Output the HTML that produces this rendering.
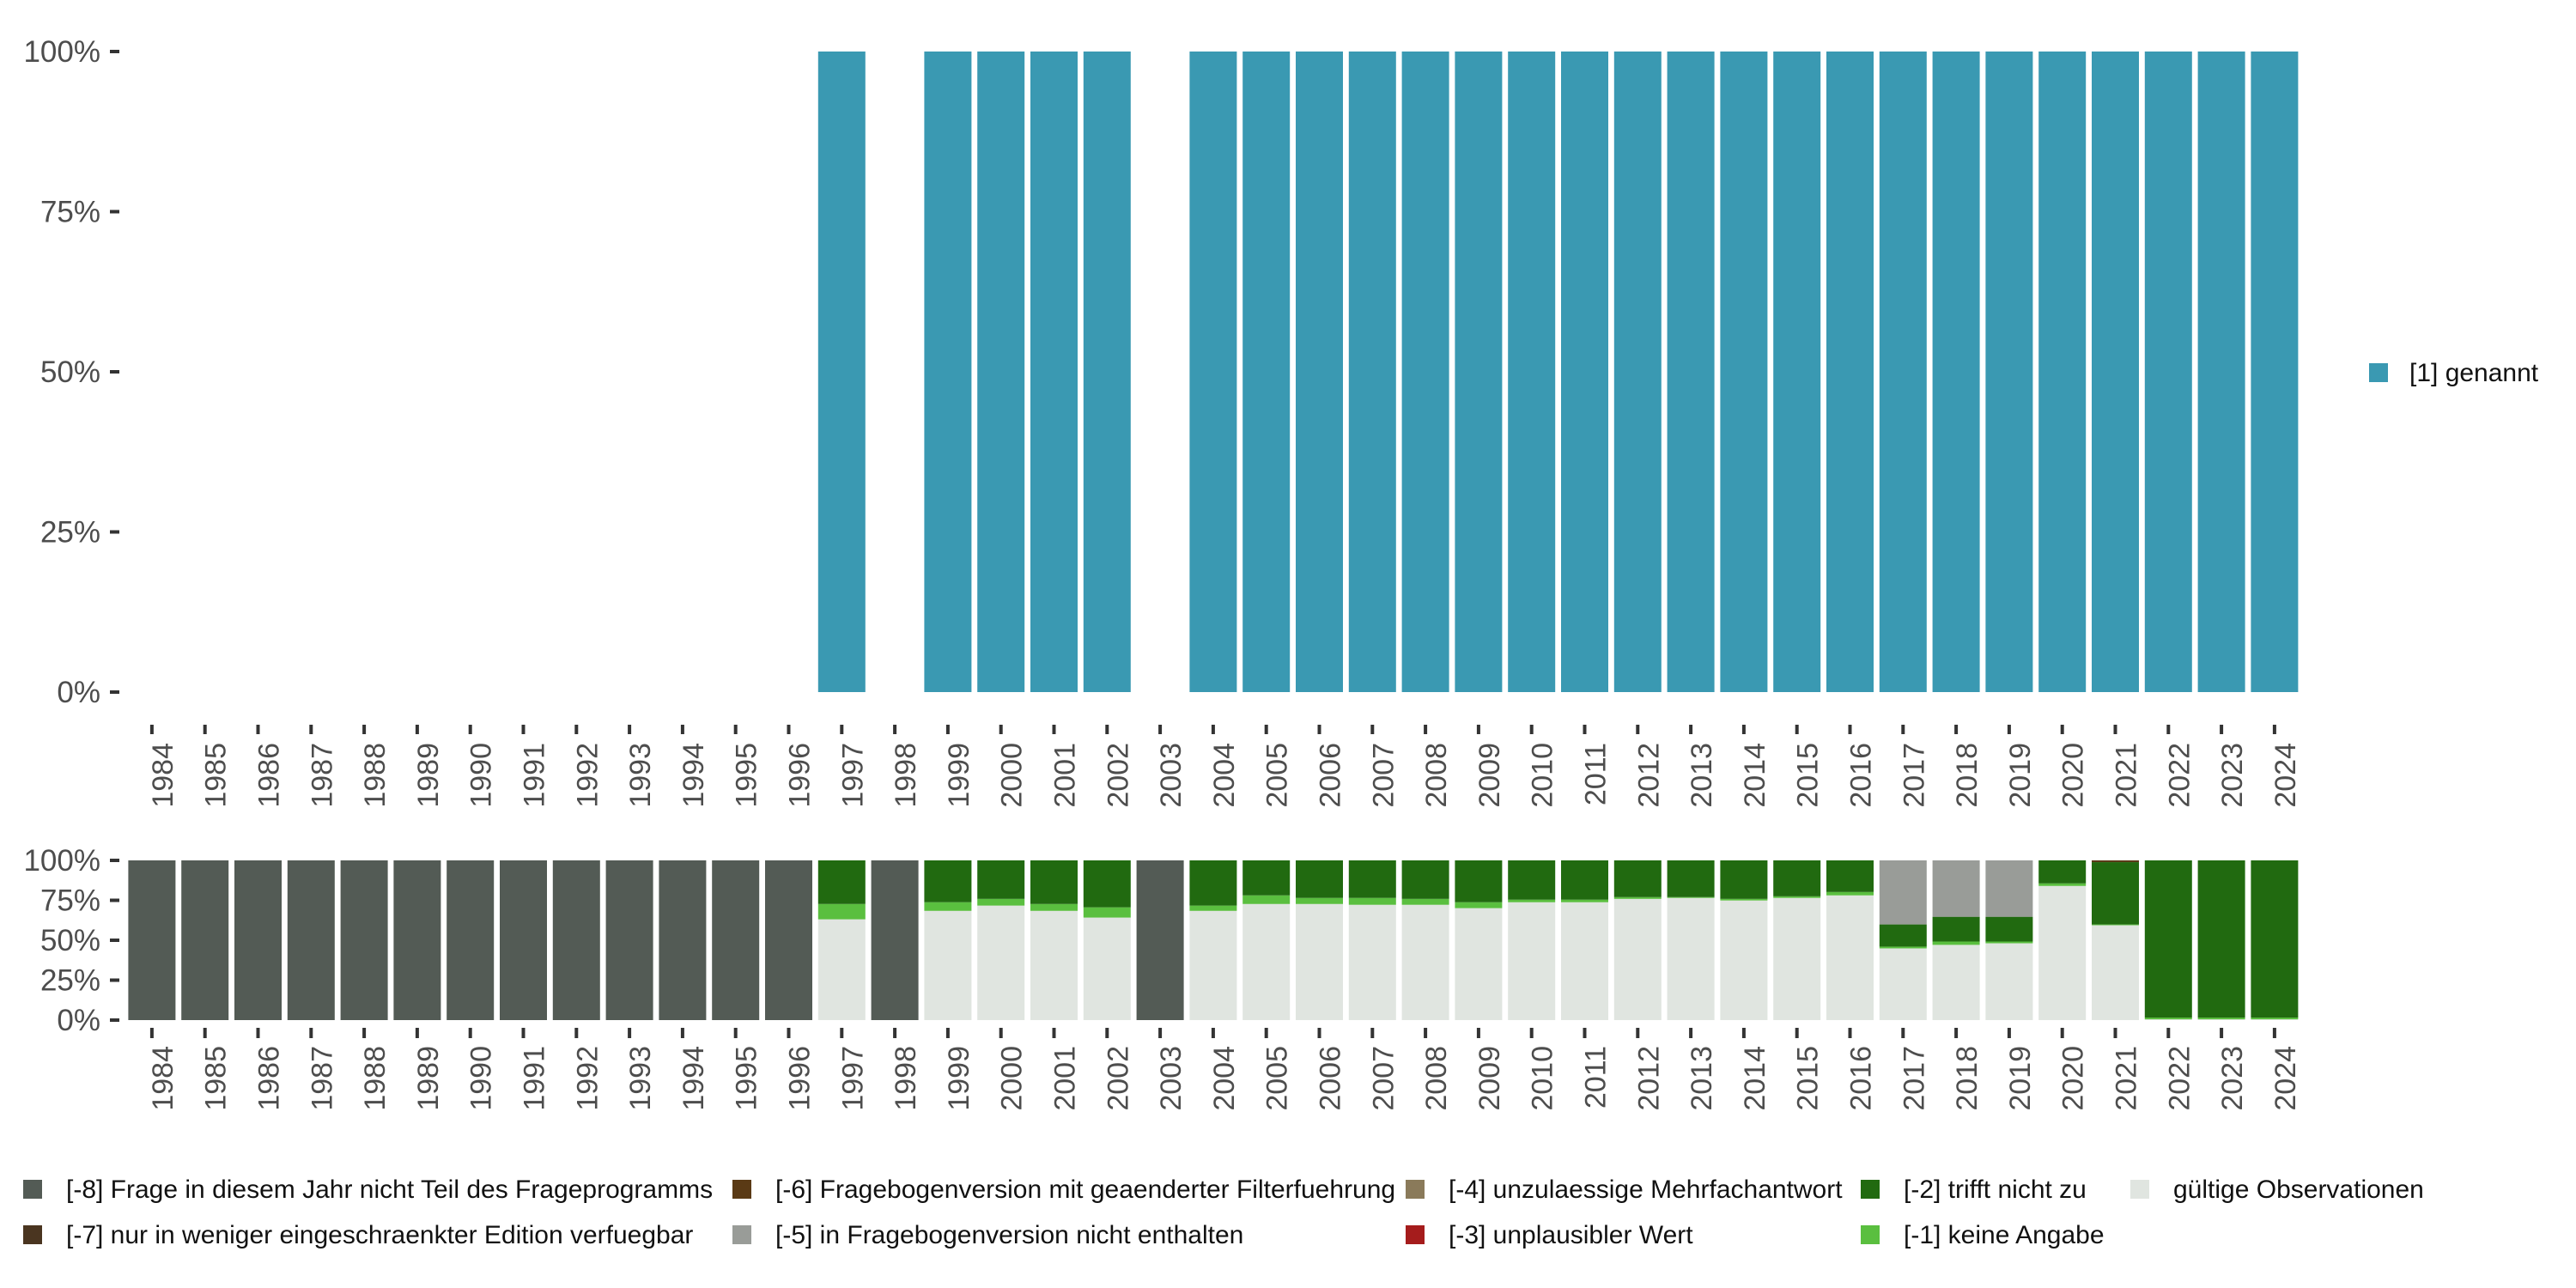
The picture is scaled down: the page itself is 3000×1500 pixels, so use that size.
<!DOCTYPE html>
<html><head><meta charset="utf-8"><style>
html,body{margin:0;padding:0;background:#fff;}
svg{display:block;font-family:"Liberation Sans",sans-serif;}
</style></head><body>
<svg id="chart" width="3000" height="1500" viewBox="0 0 3000 1500" xmlns="http://www.w3.org/2000/svg"></svg>
<script>
const years=[1984,1985,1986,1987,1988,1989,1990,1991,1992,1993,1994,1995,1996,1997,1998,1999,2000,2001,2002,2003,2004,2005,2006,2007,2008,2009,2010,2011,2012,2013,2014,2015,2016,2017,2018,2019,2020,2021,2022,2023,2024];
const topValues=[0,0,0,0,0,0,0,0,0,0,0,0,0,1,0,1,1,1,1,0,1,1,1,1,1,1,1,1,1,1,1,1,1,1,1,1,1,1,1,1,1];
const valNotInProgram=[1,1,1,1,1,1,1,1,1,1,1,1,1,0,1,0,0,0,0,1,0,0,0,0,0,0,0,0,0,0,0,0,0,0,0,0,0,0,0,0,0];
const valValid=[0,0,0,0,0,0,0,0,0,0,0,0,0,0.631,0,0.684,0.717,0.684,0.642,0,0.684,0.727,0.727,0.722,0.722,0.701,0.738,0.738,0.759,0.765,0.749,0.765,0.781,0.449,0.471,0.481,0.840,0.594,0.005,0.005,0.005];
const valNoAnswer=[0,0,0,0,0,0,0,0,0,0,0,0,0,0.096,0,0.054,0.042,0.043,0.064,0,0.033,0.054,0.038,0.043,0.037,0.037,0.016,0.016,0.011,0.005,0.010,0.010,0.021,0.011,0.021,0.011,0.016,0.005,0.011,0.011,0.011];
const valNotApplicable=[0,0,0,0,0,0,0,0,0,0,0,0,0,0.273,0,0.262,0.241,0.273,0.294,0,0.283,0.219,0.235,0.235,0.241,0.262,0.246,0.246,0.230,0.230,0.241,0.225,0.198,0.139,0.155,0.155,0.144,0.390,0.984,0.984,0.984];
const valImplausible=[0,0,0,0,0,0,0,0,0,0,0,0,0,0,0,0,0,0,0,0,0,0,0,0,0,0,0,0,0,0,0,0,0,0,0,0,0,0.011,0,0,0];
const valNotInVersion=[0,0,0,0,0,0,0,0,0,0,0,0,0,0,0,0,0,0,0,0,0,0,0,0,0,0,0,0,0,0,0,0,0,0.401,0.353,0.353,0,0,0,0,0];
const yTicks=[0,0.25,0.5,0.75,1];
const yTickLabels=["0%","25%","50%","75%","100%"];

const NS="http://www.w3.org/2000/svg";
const svg=document.getElementById('chart');
function mk(tag,attrs,parent){const e=document.createElementNS(NS,tag);for(const k in attrs)e.setAttribute(k,attrs[k]);(parent||svg).appendChild(e);return e;}
const slot=61.8, x0=146;
function xc(i){return x0+slot*(i+0.5);}
const bw=55;
function yTop(v){return 806-v*746;}
function yBot(v){return 1188-v*186;}

const gTop=mk('g',{});


yTicks.forEach((t,i)=>{
 const tk=mk('line',{x1:128,x2:139,y1:yTop(t),y2:yTop(t),stroke:'#333','stroke-width':4},gTop);
 
 
 const tx=mk('text',{x:117,y:yTop(t)+12,'text-anchor':'end','font-size':35,fill:'#4d4d4d'},gTop);
 tx.textContent=yTickLabels[i];
 
 
});
years.forEach((yr,i)=>{
 if(topValues[i]>0){
  const r=mk('rect',{x:xc(i)-bw/2,y:yTop(topValues[i]),width:bw,height:yTop(0)-yTop(topValues[i]),fill:'#3a99b2'},gTop);
  
  
 }
 const tk=mk('line',{x1:xc(i),x2:xc(i),y1:844,y2:855,stroke:'#333','stroke-width':4},gTop);
 
 
 const tx=mk('text',{x:0,y:0,'text-anchor':'end','font-size':34,fill:'#4d4d4d',transform:`translate(${xc(i)+24},865) rotate(-90)`},gTop);
 tx.textContent=yr;
 
 
});
const lgs=mk('rect',{x:2759,y:423,width:22,height:22,fill:'#3a99b2'});


const lgt=mk('text',{x:2806,y:444,'font-size':30,fill:'#111'});
lgt.textContent='[1] genannt';



const series=[
 {v:valNotInProgram,c:'#535b55',n:'not-in-program'},
 {v:valValid,c:'#e0e5e0',n:'valid'},
 {v:valNoAnswer,c:'#5abf3f',n:'no-answer'},
 {v:valNotApplicable,c:'#216a10',n:'not-applicable'},
 {v:valImplausible,c:'#5a3a15',n:'implausible'},
 {v:valNotInVersion,c:'#999c98',n:'not-in-version'}
];
const gB=mk('g',{});


yTicks.forEach((t,i)=>{
 const tk=mk('line',{x1:128,x2:139,y1:yBot(t),y2:yBot(t),stroke:'#333','stroke-width':4},gB);
 
 
 const tx=mk('text',{x:117,y:yBot(t)+12,'text-anchor':'end','font-size':35,fill:'#4d4d4d'},gB);
 tx.textContent=yTickLabels[i];
 
 
});
years.forEach((yr,i)=>{
 let cum=0;
 series.forEach(s=>{
  const v=s.v[i]; if(v<=0)return;
  const r=mk('rect',{x:xc(i)-bw/2,y:yBot(Math.min(1,cum+v)),width:bw,height:yBot(cum)-yBot(Math.min(1,cum+v)),fill:s.c},gB);
  
  
  cum+=v;
 });
 const tk=mk('line',{x1:xc(i),x2:xc(i),y1:1197,y2:1209,stroke:'#333','stroke-width':4},gB);
 
 
 const tx=mk('text',{x:0,y:0,'text-anchor':'end','font-size':34,fill:'#4d4d4d',transform:`translate(${xc(i)+24},1218) rotate(-90)`},gB);
 tx.textContent=yr;
 
 
});

const legItems=[
 {t:'[-8] Frage in diesem Jahr nicht Teil des Frageprogramms',c:'#535b55',x:16,y:1385},
 {t:'[-7] nur in weniger eingeschraenkter Edition verfuegbar',c:'#4a3520',x:16,y:1438},
 {t:'[-6] Fragebogenversion mit geaenderter Filterfuehrung',c:'#5a3a15',x:842,y:1385},
 {t:'[-5] in Fragebogenversion nicht enthalten',c:'#999c98',x:842,y:1438},
 {t:'[-4] unzulaessige Mehrfachantwort',c:'#8a7a5a',x:1626,y:1385},
 {t:'[-3] unplausibler Wert',c:'#a51c1c',x:1626,y:1438},
 {t:'[-2] trifft nicht zu',c:'#216a10',x:2156,y:1385},
 {t:'[-1] keine Angabe',c:'#5abf3f',x:2156,y:1438},
 {t:'gültige Observationen',c:'#e0e5e0',x:2470,y:1385}
];
legItems.forEach(l=>{
 const r=mk('rect',{x:l.x+11,y:l.y-11,width:22,height:22,fill:l.c});
 
 
 const t=mk('text',{x:l.x+61,y:l.y+10,'font-size':30,fill:'#111'});
 t.textContent=l.t;
 
 
});
</script>
</body></html>
